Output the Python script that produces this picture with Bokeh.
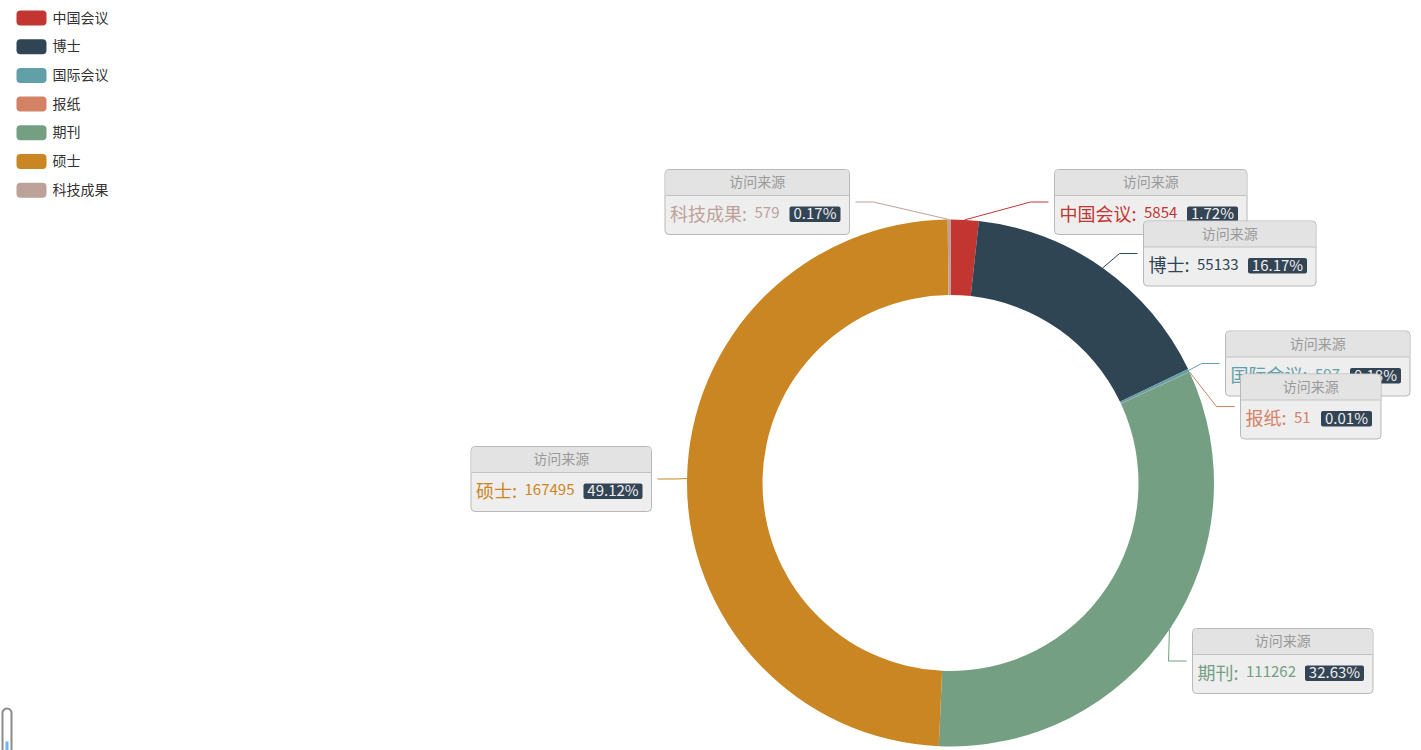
import math
from bokeh.plotting import figure
from bokeh.models import Range1d, ColumnDataSource
from bokeh.core.properties import value
from bokeh.embed import file_html
from bokeh.resources import INLINE

# ---------------- data ----------------
series_name = "访问来源"
names = ["中国会议", "博士", "国际会议", "报纸", "期刊", "硕士", "科技成果"]
values = [5854, 55133, 597, 51, 111262, 167495, 579]
colors = ["#c23531", "#2f4554", "#61a0a8", "#d48265", "#749f83", "#ca8622", "#bda29a"]

# ---------------- layout (pixels, y down) ----------------
W, H = 1421, 750
CX, CY = 950, 482.5
R_OUT, R_IN = 263.5, 188
label_edge_x = [1054, 1143, 1225, 1240, 1192, 651, 849]
label_cy = [201.5, 253, 363, 406, 660.5, 478.5, 201.5]

FONT = value("Noto Sans CJK SC")
TY = -1.5  # small vertical text correction


def Y(py):
    return H - py


p = figure(width=W, height=H, x_range=Range1d(0, W), y_range=Range1d(0, H),
           output_backend="svg", toolbar_location=None, min_border=0)
p.axis.visible = False
p.grid.visible = False
p.outline_line_color = None
p.background_fill_color = "white"
p.border_fill_color = "white"

n = len(values)
total = sum(values)
fracs = [v / total for v in values]
pcts = [f"{v / total * 100:.2f}%" for v in values]
starts, ends, mids = [], [], []
acc = 0.0
for f in fracs:
    starts.append(acc)
    mids.append(acc + f / 2)
    acc += f
    ends.append(acc)

start_ang = [math.pi / 2 - 2 * math.pi * s for s in starts]
end_ang = [math.pi / 2 - 2 * math.pi * e for e in ends]
src = ColumnDataSource(dict(x=[CX] * n, y=[Y(CY)] * n, start=start_ang,
                            end=end_ang, color=colors, name=names, val=values))
p.annular_wedge(x="x", y="y", inner_radius=R_IN, outer_radius=R_OUT,
                start_angle="start", end_angle="end", direction="clock",
                fill_color="color", line_color=None, source=src)

# ---------------- label lines ----------------
sides = []
for i in range(n):
    th = 2 * math.pi * mids[i]
    px = CX + R_OUT * math.sin(th)
    py = CY - R_OUT * math.cos(th)
    right = math.sin(th) >= 0
    sides.append(right)
    e = label_edge_x[i]
    if right:
        xs = [px, e - 24, e - 6]
    else:
        xs = [px, e + 24, e + 6]
    ys = [Y(py), Y(label_cy[i]), Y(label_cy[i])]
    p.line(xs, ys, line_color=colors[i], line_width=1)


def pct_w(s):
    w = 0
    for c in s:
        if c == ".":
            w += 4
        elif c == "%":
            w += 13
        else:
            w += 8
    return w


# ---------------- label boxes ----------------
for i in range(n):
    name_w = 18 * len(names[i]) + 5.5
    val_w = 8 * len(str(values[i]))
    per_w = pct_w(pcts[i]) + 10
    bw = 5 + name_w + 8 + val_w + 10 + per_w + 9
    if sides[i]:
        left = label_edge_x[i]
        right = left + bw
    else:
        right = label_edge_x[i]
        left = right - bw
    top = label_cy[i] - 32.5
    bottom = label_cy[i] + 32.5
    hdr_b = top + 26
    body_c = top + 44.5

    p.quad(left=left, right=right, top=Y(top), bottom=Y(bottom),
           fill_color="#eeeeee", line_color="#b8b8b8", line_width=1, border_radius=4)
    p.quad(left=left + 0.5, right=right - 0.5, top=Y(top + 0.5), bottom=Y(hdr_b),
           fill_color="#e3e3e3", line_color=None, border_radius=(4, 4, 0, 0))
    p.segment(x0=left + 0.5, y0=Y(hdr_b), x1=right - 0.5, y1=Y(hdr_b),
              line_color="#c2c2c2", line_width=1)
    p.text(x=[(left + right) / 2], y=[Y(top + 13 + TY)], text=[series_name],
           text_align="center", text_baseline="middle", text_font=FONT,
           text_font_size=value("14px"), text_color="#999999")
    p.text(x=[left + 5], y=[Y(body_c + TY)], text=[names[i] + ":"],
           text_align="left", text_baseline="middle", text_font=FONT,
           text_font_size=value("18px"), text_color=colors[i])
    p.text(x=[left + 5 + name_w + 7], y=[Y(body_c + TY)], text=[str(values[i])],
           text_align="left", text_baseline="middle", text_font=FONT,
           text_font_size=value("15px"), text_color=colors[i])
    pr = right - 9
    pl = pr - per_w
    p.quad(left=pl, right=pr, top=Y(body_c - 7.5), bottom=Y(body_c + 8),
           fill_color="#334455", line_color=None, border_radius=2)
    p.text(x=[(pl + pr) / 2], y=[Y(body_c + TY)], text=[pcts[i]],
           text_align="center", text_baseline="middle", text_font=FONT,
           text_font_size=value("15px"), text_color="#eeeeee")

# ---------------- legend ----------------
step = 28.7
for i in range(n):
    yc = 17.5 + i * step
    p.quad(left=16, right=46, top=Y(yc - 7.5), bottom=Y(yc + 7.5),
           fill_color=colors[i], line_color=None, border_radius=4)
    p.text(x=[52], y=[Y(yc + TY)], text=[names[i]], text_align="left",
           text_baseline="middle", text_font=FONT,
           text_font_size=value("14px"), text_color="#333333")

# ---------------- small scroll indicator (bottom-left) ----------------
p.quad(left=2, right=11, top=Y(708), bottom=Y(762), fill_color=None,
       line_color="#8a8a8a", line_width=2, border_radius=5)
p.quad(left=5, right=8, top=Y(741), bottom=Y(752), fill_color="#6cb4f2",
       line_color=None)

open("out.html", "w").write(file_html(p, INLINE))
